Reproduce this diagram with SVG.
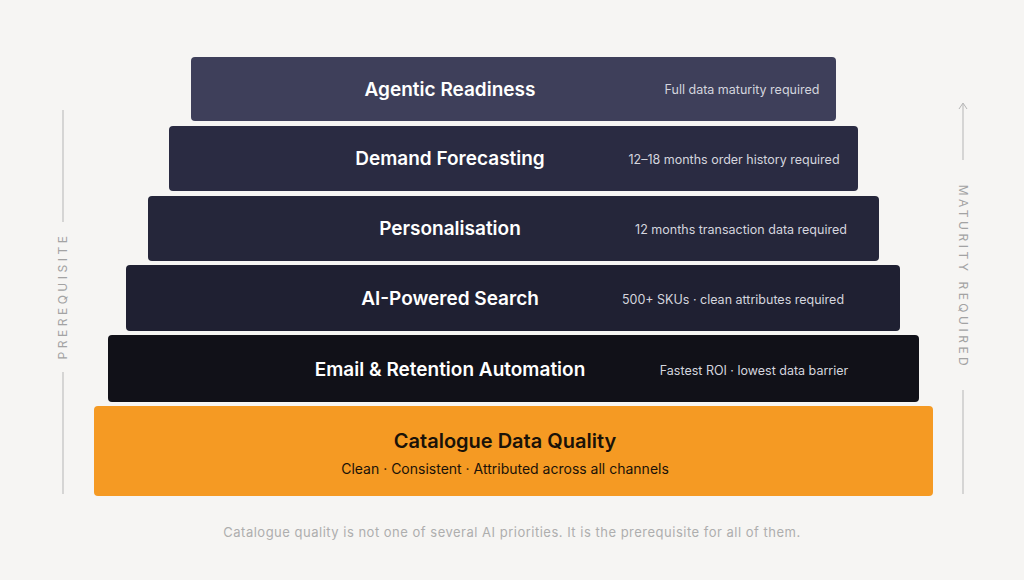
<svg xmlns="http://www.w3.org/2000/svg" width="1024" height="580" viewBox="0 0 1024 580">
<style>
.t{font-family:Inter,"Liberation Sans",sans-serif;font-size:19px;font-weight:600;fill:#fff;text-anchor:middle}
.s{font-family:Inter,"Liberation Sans",sans-serif;font-size:12.5px;fill:#d4d5de;text-anchor:middle}
.side{font-family:Inter,"Liberation Sans",sans-serif;font-size:12px;fill:#a3a3a3;letter-spacing:3.5px;text-anchor:middle}
.ln{stroke:#b5b5b5;stroke-width:1;fill:none}
</style>
<rect width="1024" height="580" fill="#f6f5f3"/>
<g id="side-left">
<line class="ln" x1="63" y1="110" x2="63" y2="222"/>
<line class="ln" x1="63" y1="372" x2="63" y2="494"/>
<text class="side" transform="translate(67,296) rotate(-90)">PREREQUISITE</text>
</g>
<g id="side-right">
<line class="ln" x1="963" y1="104" x2="963" y2="160"/>
<path class="ln" d="M959,109 L963,103 L967,109"/>
<line class="ln" x1="963" y1="390" x2="963" y2="494"/>
<text class="side" transform="translate(959,277) rotate(90)">MATURITY REQUIRED</text>
</g>
<g id="tier-agentic">
<rect x="191" y="57" width="645" height="64" rx="4" fill="#3e3f5a"/>
<text class="t" x="450" y="96">Agentic Readiness</text>
<text class="s" x="742" y="94">Full data maturity required</text>
</g>
<g id="tier-demand">
<rect x="169" y="126" width="689" height="65" rx="4" fill="#2a2b42"/>
<text class="t" x="450" y="165">Demand Forecasting</text>
<text class="s" x="734" y="164">12–18 months order history required</text>
</g>
<g id="tier-personalisation">
<rect x="148" y="196" width="731" height="65" rx="4" fill="#25263a"/>
<text class="t" x="450" y="235">Personalisation</text>
<text class="s" x="741" y="234">12 months transaction data required</text>
</g>
<g id="tier-search">
<rect x="126" y="265" width="774" height="66" rx="4" fill="#1f2032"/>
<text class="t" x="450" y="305">AI-Powered Search</text>
<text class="s" x="733" y="304">500+ SKUs · clean attributes required</text>
</g>
<g id="tier-email">
<rect x="108" y="335" width="811" height="67" rx="4" fill="#111118"/>
<text class="t" x="450" y="376">Email &amp; Retention Automation</text>
<text class="s" x="754" y="375">Fastest ROI · lowest data barrier</text>
</g>
<g id="tier-catalogue">
<rect x="94" y="406" width="839" height="90" rx="4" fill="#f59a23"/>
<text class="t" x="505" y="448" style="fill:#1a1208;font-size:20px">Catalogue Data Quality</text>
<text class="s" x="505" y="474" style="fill:#1a1208;font-size:14px">Clean · Consistent · Attributed across all channels</text>
</g>
<g id="connectors"></g>
<text x="512" y="537" style="font-family:Inter,'Liberation Sans',sans-serif;font-size:13px;fill:#aeaeae;letter-spacing:0.5px;text-anchor:middle">Catalogue quality is not one of several AI priorities. It is the prerequisite for all of them.</text>
</svg>
